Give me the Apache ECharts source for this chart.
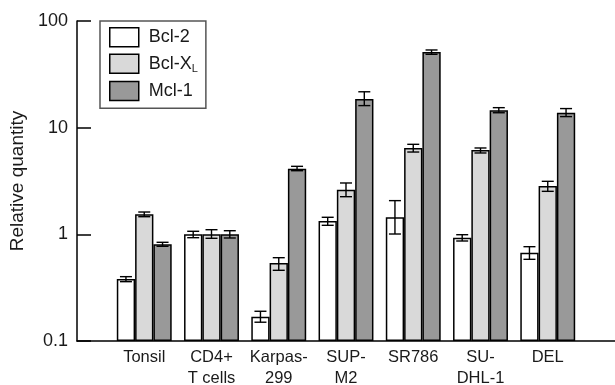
<!DOCTYPE html>
<html><head><meta charset="utf-8">
<script src="https://cdn.jsdelivr.net/npm/echarts@6/dist/echarts.min.js"></script>
<style>html,body{margin:0;padding:0;background:#fff}#c{width:615px;height:385px}</style>
</head><body><div id="c"></div>
<script>
// ---- data ----
const categories = ['', 'Tonsil', 'CD4+\nT cells', 'Karpas-\n299', 'SUP-\nM2', 'SR786', 'SU-\nDHL-1', 'DEL', ''];
const seriesNames = ['Bcl-2', 'Bcl-XL', 'Mcl-1'];
const bcl2    = [null, 0.381, 1.0,   0.169, 1.334, 1.445, 0.930, 0.673, null];
const bcl2Hi  = [null, 0.401, 1.068, 0.190, 1.445, 2.07,  0.992, 0.766, null];
const bcl2Lo  = [null, 0.360, 0.930, 0.150, 1.215, 1.007, 0.866, 0.583, null];
const bclxl   = [null, 1.541, 1.0,   0.538, 2.62,  6.45,  6.17,  2.84,  null];
const bclxlHi = [null, 1.619, 1.105, 0.604, 3.03,  6.98,  6.45,  3.14,  null];
const bclxlLo = [null, 1.463, 0.918, 0.460, 2.254, 5.91,  5.79,  2.53,  null];
const mcl1    = [null, 0.806, 1.0,   4.12,  18.6,  51.2,  14.6,  13.8,  null];
const mcl1Hi  = [null, 0.842, 1.081, 4.34,  21.7,  53.5,  15.4,  15.1,  null];
const mcl1Lo  = [null, 0.772, 0.924, 3.95,  16.1,  48.7,  13.8,  12.7,  null];
const yTickLabels = ['0.1', '1', '10', '100'];

// ---- styling ----
const FONT = "'Liberation Sans', Arial, sans-serif";
const TXT = '#1a1a1a';
const BAR_W = 18.3;
const CAP = 12;
const colors = ['#ffffff', '#d9d9d9', '#999999'];
const values = [bcl2, bclxl, mcl1];
const his = [bcl2Hi, bclxlHi, mcl1Hi];
const los = [bcl2Lo, bclxlLo, mcl1Lo];

function errRenderer(k) {
  return function (params, api) {
    const x = api.value(0), lo = api.value(1), hi = api.value(2);
    const pLo = api.coord([x, lo]), pHi = api.coord([x, hi]);
    const cx = pLo[0] + (k - 1) * BAR_W, hw = CAP / 2;
    const st = { stroke: '#000', lineWidth: 1.4 };
    return { type: 'group', children: [
      { type: 'line', shape: { x1: cx, y1: pHi[1], x2: cx, y2: pLo[1] }, style: st },
      { type: 'line', shape: { x1: cx - hw, y1: pHi[1], x2: cx + hw, y2: pHi[1] }, style: st },
      { type: 'line', shape: { x1: cx - hw, y1: pLo[1], x2: cx + hw, y2: pLo[1] }, style: st }
    ]};
  };
}

const series = [];
seriesNames.forEach((n, k) => {
  series.push({
    name: n, type: 'bar', barWidth: BAR_W, barGap: '0%',
    data: values[k],
    itemStyle: { color: colors[k], borderColor: '#000', borderWidth: 1.5 },
    emphasis: { disabled: true }, animation: false
  });
});
seriesNames.forEach((n, k) => {
  const d = [];
  values[k].forEach((v, i) => { if (v != null) d.push([i, los[k][i], his[k][i]]); });
  series.push({
    name: 'err' + k, type: 'custom', renderItem: errRenderer(k),
    data: d, z: 5, animation: false, silent: true
  });
});

const chart = echarts.init(document.getElementById('c'), null, { renderer: 'canvas' });
chart.setOption({
  animation: false,
  backgroundColor: '#fff',
  grid: { left: 77, right: 0, top: 21, bottom: 44, containLabel: false, outerBoundsMode: 'none' },
  legend: {
    data: seriesNames, orient: 'vertical', left: 100, top: 21,
    icon: 'rect',
    itemWidth: 29, itemHeight: 19, itemGap: 6,
    padding: [6, 8, 7, 9], borderColor: '#555', borderWidth: 1.5,
    selectedMode: false,
    itemStyle: { borderColor: '#000', borderWidth: 1.5 },
    formatter: function (name) {
      return name === 'Bcl-XL' ? '{t|Bcl-X}{s|L}' : '{t|' + name + '}';
    },
    textStyle: {
      color: TXT, fontFamily: FONT, fontSize: 18, padding: [0, 0, 0, 5],
      rich: {
        t: { fontSize: 18, fontFamily: FONT, color: TXT },
        s: { fontSize: 11, fontFamily: FONT, color: TXT, padding: [11, 0, 0, 0] }
      }
    }
  },
  xAxis: {
    type: 'category', data: categories, boundaryGap: false,
    axisLine: { lineStyle: { color: '#000', width: 1.5 } },
    axisTick: { show: false },
    axisLabel: { interval: 0, color: TXT, fontFamily: FONT, fontSize: 16.5, lineHeight: 21, margin: 6 },
    splitLine: { show: false }
  },
  yAxis: {
    type: 'log', logBase: 10, min: 0.1, max: 100, startValue: 0.1,
    name: 'Relative quantity', nameLocation: 'middle', nameGap: 48,
    nameTextStyle: { color: TXT, fontFamily: FONT, fontSize: 19 },
    axisLine: { show: true, lineStyle: { color: '#000', width: 1.5 } },
    axisTick: { show: true, inside: true, length: 14, lineStyle: { color: '#000', width: 1.5 } },
    minorTick: { show: false },
    axisLabel: {
      color: TXT, fontFamily: FONT, fontSize: 18, margin: 9,
      formatter: function (v) {
        const s = String(+Number(v).toPrecision(2));
        return yTickLabels.indexOf(s) >= 0 ? s : '';
      }
    },
    splitLine: { show: false }
  },
  series: series
});
</script></body></html>
